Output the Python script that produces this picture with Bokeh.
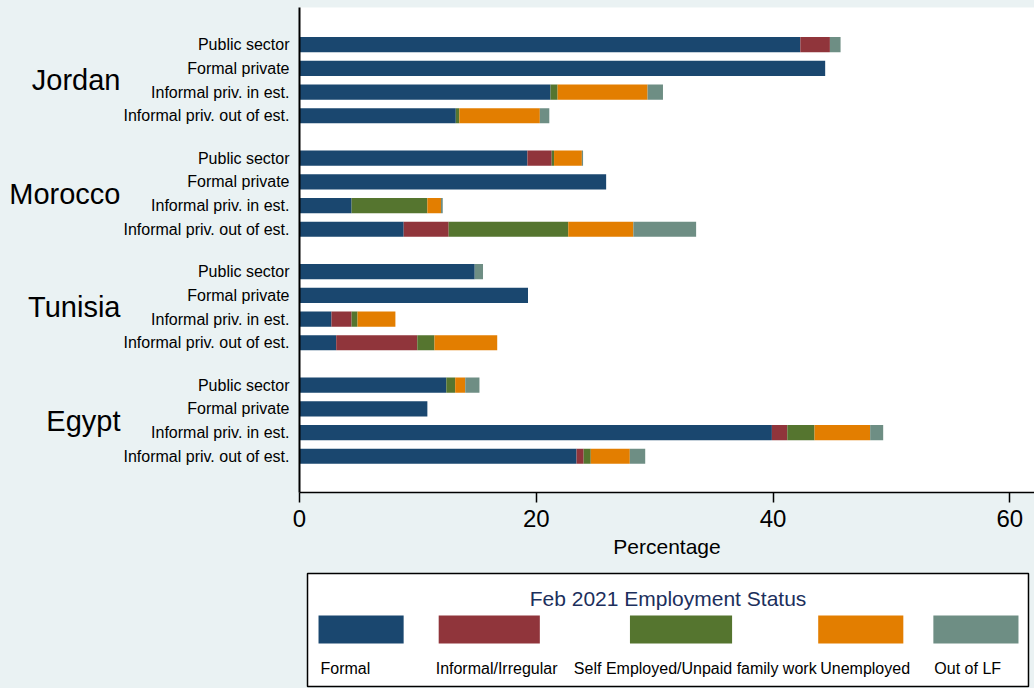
from bokeh.plotting import figure
from bokeh.models import ColumnDataSource, Range1d, FixedTicker, LinearAxis
from bokeh.layouts import column
from bokeh.core.properties import value
from bokeh.embed import file_html
from bokeh.resources import INLINE

# ---------------- data ----------------
countries = ["Jordan", "Morocco", "Tunisia", "Egypt"]
sectors = ["Public sector", "Formal private", "Informal priv. in est.", "Informal priv. out of est."]
statuses = ["Formal", "Informal/Irregular", "Self Employed/Unpaid family work", "Unemployed", "Out of LF"]

# one value per (country, sector), in order Jordan..Egypt, Public..Informal out
formal     = [42.3, 44.4, 21.2, 13.2,  19.25, 25.9, 4.4, 8.8,  14.8, 19.3, 2.7, 3.1,  12.4, 10.8, 39.9, 23.4]
informal   = [2.5, 0.0, 0.0, 0.0,      2.05, 0.0, 0.0, 3.8,    0.0, 0.0, 1.7, 6.85,   0.0, 0.0, 1.3, 0.6]
selfemp    = [0.0, 0.0, 0.6, 0.3,      0.2, 0.0, 6.4, 10.1,    0.0, 0.0, 0.5, 1.45,   0.75, 0.0, 2.3, 0.6]
unemployed = [0.0, 0.0, 7.6, 6.8,      2.35, 0.0, 1.15, 5.5,   0.0, 0.0, 3.2, 5.3,    0.85, 0.0, 4.7, 3.3]
out_of_lf  = [0.9, 0.0, 1.3, 0.8,      0.1, 0.0, 0.15, 5.3,    0.7, 0.0, 0.0, 0.0,    1.2, 0.0, 1.1, 1.3]

x_ticks = [0, 20, 40, 60]

# ---------------- style ----------------
colors = ["#1a476f", "#90353b", "#55752f", "#e37e00", "#6e8e84"]
BG = "#eaf2f3"
FONT = "Liberation Sans"

STEP = 100          # distance between bars inside a country
GROUP = 479         # distance between first bars of consecutive countries
ypos, ylab = [], {}
for g, c in enumerate(countries):
    for j, s in enumerate(sectors):
        y = g * GROUP + j * STEP
        ypos.append(y)
        ylab[y] = s
group_centers = {g * GROUP + int(1.5 * STEP): c for g, c in enumerate(countries)}

keys = ["formal", "informal", "selfemp", "unemployed", "out_of_lf"]
src = ColumnDataSource(dict(y=ypos, formal=formal, informal=informal, selfemp=selfemp,
                            unemployed=unemployed, out_of_lf=out_of_lf))

p = figure(width=1034, height=568, output_backend="svg", toolbar_location=None,
           x_range=Range1d(0, 62.08), y_range=Range1d(1890, -157),
           min_border_left=299, min_border_right=0, min_border_top=7, min_border_bottom=76)
p.background_fill_color = "white"
p.border_fill_color = BG
p.outline_line_color = None
p.grid.visible = False

p.hbar_stack(keys, y="y", height=64, color=colors, line_color=None, source=src)

# x axis
xa = p.xaxis[0]
xa.ticker = FixedTicker(ticks=x_ticks)
xa.minor_tick_line_color = None
xa.major_tick_out = 10
xa.major_tick_in = 0
xa.axis_line_width = 1.5
xa.major_tick_line_width = 1.5
xa.axis_line_color = "black"
xa.major_tick_line_color = "black"
xa.major_label_text_font = FONT
xa.major_label_text_font_size = "24px"
xa.major_label_text_color = "black"
xa.major_label_standoff = 7
xa.axis_label = "Percentage"
xa.axis_label_text_font = FONT
xa.axis_label_text_font_size = "21px"
xa.axis_label_text_font_style = "normal"
xa.axis_label_text_color = "black"
xa.axis_label_standoff = 5

# inner y axis: sector labels
ya = p.yaxis[0]
ya.ticker = FixedTicker(ticks=ypos)
ya.major_label_overrides = ylab
ya.major_tick_line_color = None
ya.minor_tick_line_color = None
ya.major_tick_out = 0
ya.major_tick_in = 0
ya.axis_line_width = 2
ya.axis_line_color = "black"
ya.major_label_text_font = FONT
ya.major_label_text_font_size = "16px"
ya.major_label_text_color = "black"
ya.major_label_standoff = 10

# outer y axis: country labels
ca = LinearAxis(ticker=FixedTicker(ticks=list(group_centers.keys())),
                major_label_overrides=group_centers)
ca.axis_line_color = None
ca.major_tick_line_color = None
ca.minor_tick_line_color = None
ca.major_tick_out = 0
ca.major_tick_in = 0
ca.major_label_text_font = FONT
ca.major_label_text_font_size = "29px"
ca.major_label_text_color = "black"
ca.major_label_standoff = 0
p.add_layout(ca, "left")

# ---------------- legend (drawn in page-pixel coordinates) ----------------
# the column layout aligns this frame with the main frame (x from 300 to 1034)
lg = figure(width=1034, height=120, output_backend="svg", toolbar_location=None,
            x_range=Range1d(300, 1034), y_range=Range1d(688, 568),
            min_border=0, x_axis_location=None, y_axis_location=None)
lg.background_fill_color = BG
lg.border_fill_color = BG
lg.outline_line_color = None
lg.grid.visible = False

lg.quad(left=[308], right=[1028], top=[573], bottom=[686], fill_color="white",
        line_color="black", line_width=1.5)
lg.text(x=[668], y=[598], text=["Feb 2021 Employment Status"], text_align="center",
        text_baseline="middle", text_font=value(FONT), text_font_size="21px", text_color="#1c2f5c")
sw_left = [319, 439, 630, 818, 933]
sw_right = [404, 540, 732, 903, 1018]
lab_x = [321, 436, 574, 820, 934]
lg.quad(left=sw_left, right=sw_right, top=[615] * 5, bottom=[643] * 5, fill_color=colors, line_color=None)
lg.text(x=lab_x, y=[668] * 5, text=statuses, text_align="left", text_baseline="middle",
        text_font=value(FONT), text_font_size="16px", text_color="black")

layout = column(p, lg, spacing=0)
layout.styles = {"background-color": BG}

open("out.html", "w").write(file_html(layout, INLINE))
